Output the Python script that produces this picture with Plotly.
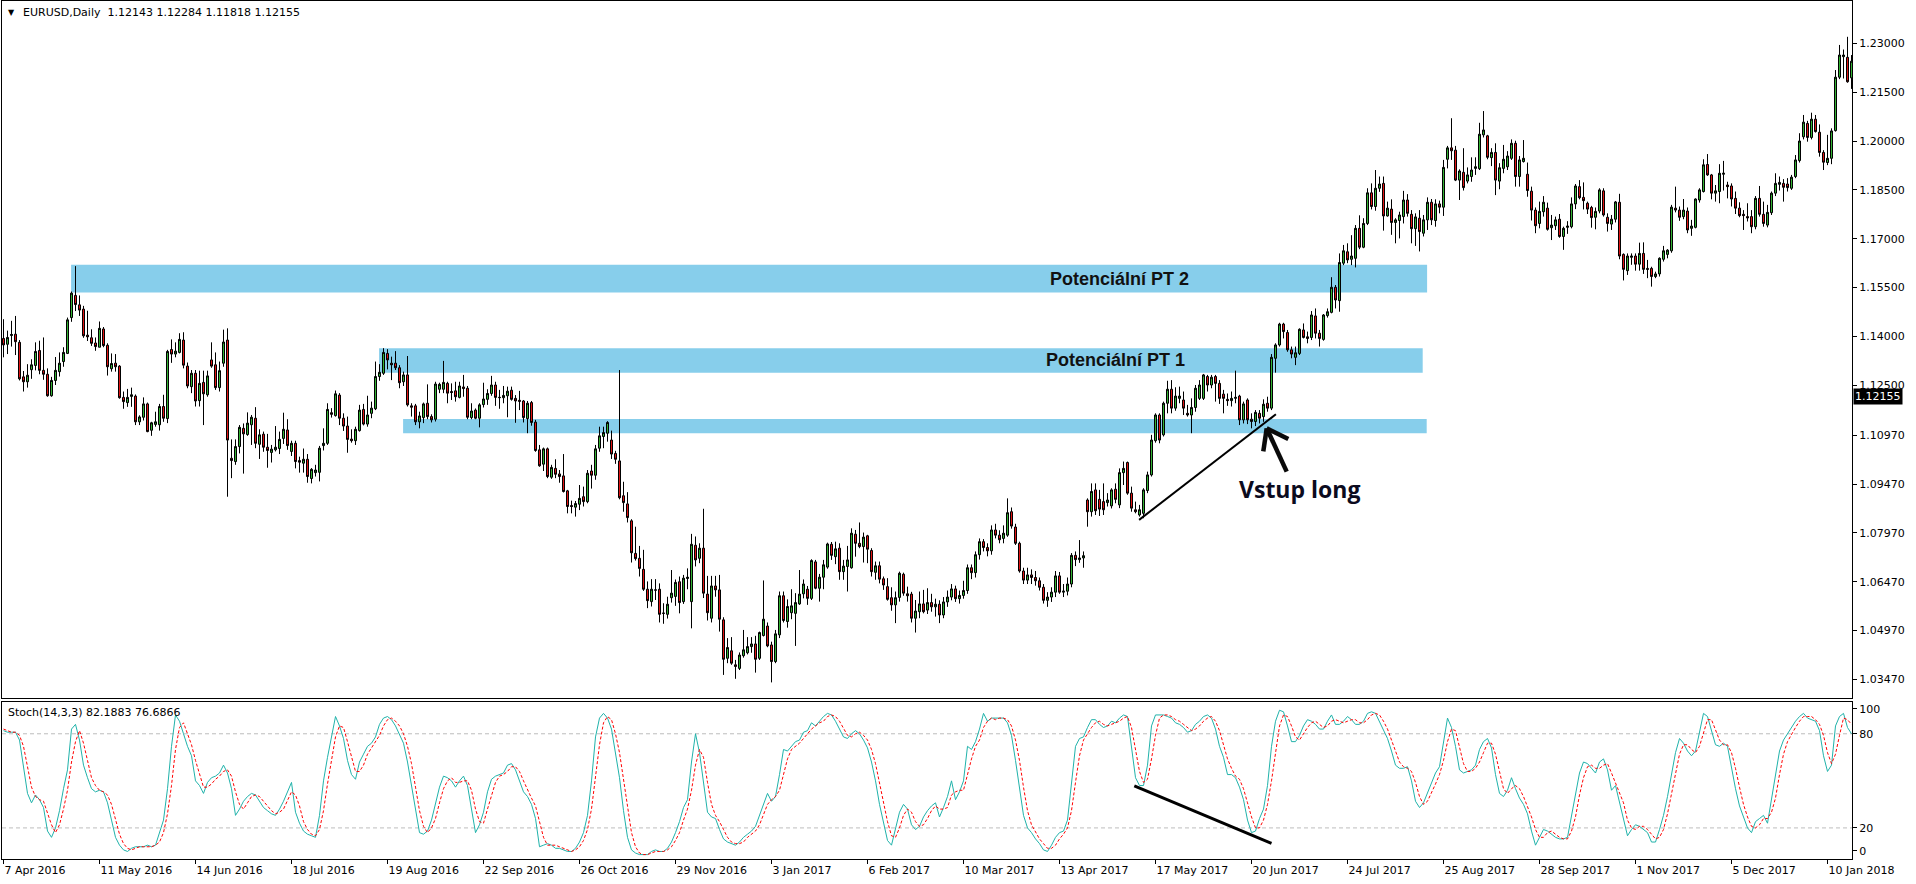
import plotly.graph_objects as go

# ---------------- data ----------------
date_labels = ["7 Apr 2016", "11 May 2016", "14 Jun 2016", "18 Jul 2016", "19 Aug 2016",
               "22 Sep 2016", "26 Oct 2016", "29 Nov 2016", "3 Jan 2017", "6 Feb 2017",
               "10 Mar 2017", "13 Apr 2017", "17 May 2017", "20 Jun 2017", "24 Jul 2017",
               "25 Aug 2017", "28 Sep 2017", "1 Nov 2017", "5 Dec 2017", "10 Jan 2018"]
date_label_bars = [0, 24, 48, 72, 96, 120, 144, 168, 192, 216, 240, 264, 288, 312, 336,
                   360, 384, 408, 432, 456]

price_ticks = [1.0347, 1.0497, 1.0647, 1.0797, 1.0947, 1.1097, 1.125, 1.14, 1.155,
               1.17, 1.185, 1.20, 1.215, 1.23]
stoch_ticks = [96, 80, 20, 5.5]
stoch_tick_text = ["100", "80", "20", "0"]

open_ = [
1.1394,1.1376,1.1403,1.1407,1.1382,1.1276,1.1261,1.1298,1.1311,1.1357,
1.1296,1.1284,1.1218,1.1265,1.1292,1.1323,1.1348,1.1458,1.1526,1.1497,
1.1484,1.1404,1.1396,1.1380,1.1367,1.1423,1.1373,1.1301,1.1318,1.1309,
1.1213,1.1197,1.1216,1.1217,1.1138,1.1152,1.1193,1.1112,1.1130,1.1129,
1.1185,1.1148,1.1360,1.1346,1.1351,1.1389,1.1309,1.1246,1.1287,1.1203,
1.1259,1.1221,1.1328,1.1313,1.1243,1.1318,1.1389,1.1026,1.1016,1.1062,
1.1118,1.1099,1.1129,1.1149,1.1069,1.1100,1.1060,1.1044,1.1052,1.1056,
1.1087,1.1113,1.1047,1.1072,1.1019,1.1011,1.1023,1.0964,1.0982,1.0983,
1.1065,1.1072,1.1166,1.1157,1.1220,1.1149,1.1125,1.1085,1.1080,1.1111,
1.1176,1.1131,1.1164,1.1178,1.1277,1.1287,1.1348,1.1318,1.1318,1.1304,
1.1261,1.1282,1.1187,1.1187,1.1138,1.1151,1.1195,1.1154,1.1146,1.1238,
1.1238,1.1256,1.1231,1.1233,1.1213,1.1245,1.1241,1.1151,1.1174,1.1149,
1.1191,1.1207,1.1225,1.1251,1.1212,1.1212,1.1218,1.1235,1.1210,1.1204,
1.1202,1.1148,1.1197,1.1137,1.1052,1.1008,1.1055,1.0968,1.0995,1.0978,
1.0972,1.0926,1.0881,1.0876,1.0885,1.0908,1.0893,1.0987,1.0974,1.1057,
1.1093,1.1103,1.1082,1.1041,1.1018,1.0911,1.0886,1.0834,1.0734,1.0719,
1.0685,1.0624,1.0586,1.0621,1.0624,1.0551,1.0547,1.0598,1.0602,1.0647,
1.0586,1.0657,1.0586,1.0759,1.0719,1.0750,1.0609,1.0535,1.0634,1.0622,
1.0530,1.0412,1.0435,1.0392,1.0381,1.0420,1.0429,1.0448,1.0456,1.0412,
1.0482,1.0511,1.0453,1.0402,1.0484,1.0604,1.0525,1.0552,1.0550,1.0579,
1.0610,1.0624,1.0596,1.0708,1.0627,1.0661,1.0692,1.0762,1.0724,1.0750,
1.0678,1.0694,1.0690,1.0793,1.0765,1.0755,1.0788,1.0743,1.0676,1.0696,
1.0656,1.0632,1.0598,1.0576,1.0599,1.0670,1.0610,1.0609,1.0535,1.0555,
1.0579,1.0560,1.0583,1.0570,1.0578,1.0545,1.0585,1.0600,1.0625,1.0595,
1.0605,1.0620,1.0690,1.0675,1.0730,1.0770,1.0752,1.0742,1.0806,1.0790,
1.0780,1.0790,1.0862,1.0815,1.0765,1.0680,1.0652,1.0668,1.0660,1.0650,
1.0630,1.0590,1.0600,1.0615,1.0665,1.0615,1.0618,1.0640,1.0728,1.0715,
1.0720,1.0898,1.0862,1.0929,1.0900,1.0893,1.0890,1.0880,1.0931,1.0883,
1.0982,1.1013,1.0919,1.0868,1.0852,1.0857,1.0927,1.0975,1.1080,1.1159,
1.1098,1.1195,1.1238,1.1180,1.1210,1.1205,1.1164,1.1159,1.1182,1.1210,
1.1210,1.1277,1.1251,1.1277,1.1256,1.1223,1.1207,1.1203,1.1210,1.1217,
1.1144,1.1205,1.1146,1.1139,1.1164,1.1154,1.1195,1.1180,1.1333,1.1374,
1.1438,1.1412,1.1359,1.1336,1.1348,1.1420,1.1399,1.1397,1.1463,1.1410,
1.1391,1.1464,1.1474,1.1551,1.1510,1.1625,1.1660,1.1637,1.1640,1.1732,
1.1674,1.1747,1.1841,1.1799,1.1855,1.1870,1.1770,1.1791,1.1750,1.1756,
1.1768,1.1819,1.1775,1.1731,1.1763,1.1717,1.1758,1.1812,1.1756,1.1807,
1.1797,1.1944,1.1979,1.1972,1.1880,1.1904,1.1877,1.1891,1.1916,1.1915,
1.2019,1.2016,1.1949,1.1965,1.1877,1.1916,1.1921,1.1947,1.1993,1.1891,
1.1937,1.1898,1.1846,1.1788,1.1747,1.1783,1.1794,1.1734,1.1740,1.1760,
1.1707,1.1735,1.1737,1.1807,1.1860,1.1827,1.1809,1.1796,1.1766,1.1785,
1.1847,1.1766,1.1745,1.1760,1.1812,1.1652,1.1602,1.1643,1.1647,1.1622,
1.1655,1.1609,1.1609,1.1584,1.1592,1.1637,1.1652,1.1663,1.1794,1.1788,
1.1768,1.1785,1.1732,1.1735,1.1819,1.1845,1.1928,1.1896,1.1840,1.1845,
1.1898,1.1865,1.1862,1.1824,1.1794,1.1775,1.1768,1.1768,1.1737,1.1824,
1.1775,1.1742,1.1780,1.1840,1.1867,1.1870,1.1868,1.1855,1.1891,1.1940,
1.2013,1.2054,1.2011,1.2067,1.2027,1.1965,1.1934,1.1947,1.2032,1.2196,
1.2259,1.2257,1.2194]

high_ = [
1.1453,1.1418,1.1448,1.1463,1.1389,1.1294,1.1315,1.1330,1.1382,1.1387,
1.1397,1.1302,1.1276,1.1337,1.1351,1.1367,1.1458,1.1538,1.1616,1.1526,
1.1494,1.1479,1.1422,1.1397,1.1446,1.1429,1.1379,1.1348,1.1346,1.1312,
1.1231,1.1239,1.1243,1.1222,1.1158,1.1213,1.1197,1.1138,1.1169,1.1193,
1.1221,1.1359,1.1391,1.1382,1.1410,1.1413,1.1320,1.1297,1.1297,1.1295,
1.1295,1.1295,1.1382,1.1351,1.1323,1.1421,1.1425,1.1084,1.1084,1.1128,
1.1133,1.1167,1.1159,1.1183,1.1115,1.1108,1.1101,1.1067,1.1125,1.1108,
1.1166,1.1146,1.1080,1.1080,1.1031,1.1056,1.1039,1.0996,1.1006,1.1064,
1.1118,1.1195,1.1180,1.1234,1.1226,1.1164,1.1154,1.1115,1.1123,1.1190,
1.1193,1.1218,1.1200,1.1323,1.1315,1.1364,1.1361,1.1338,1.1355,1.1312,
1.1292,1.1340,1.1195,1.1193,1.1169,1.1197,1.1253,1.1161,1.1261,1.1258,
1.1325,1.1261,1.1256,1.1261,1.1261,1.1282,1.1248,1.1195,1.1179,1.1195,
1.1258,1.1238,1.1279,1.1261,1.1236,1.1248,1.1246,1.1246,1.1220,1.1233,
1.1205,1.1202,1.1202,1.1144,1.1067,1.1059,1.1059,1.1006,1.1023,1.0990,
1.1039,1.0929,1.0896,1.0895,1.0944,1.0939,1.0990,1.1006,1.1067,1.1123,
1.1123,1.1140,1.1111,1.1049,1.1297,1.0954,1.0922,1.0839,1.0816,1.0757,
1.0745,1.0648,1.0655,1.0655,1.0642,1.0581,1.0601,1.0683,1.0654,1.0663,
1.0668,1.0688,1.0794,1.0786,1.0765,1.0871,1.0665,1.0665,1.0665,1.0668,
1.0538,1.0474,1.0477,1.0407,1.0430,1.0499,1.0477,1.0477,1.0481,1.0494,
1.0651,1.0522,1.0463,1.0499,1.0617,1.0617,1.0593,1.0624,1.0612,1.0683,
1.0654,1.0634,1.0716,1.0714,1.0671,1.0714,1.0767,1.0769,1.0770,1.0765,
1.0714,1.0757,1.0811,1.0806,1.0829,1.0798,1.0791,1.0750,1.0709,1.0709,
1.0663,1.0658,1.0630,1.0617,1.0678,1.0675,1.0632,1.0616,1.0591,1.0617,
1.0622,1.0627,1.0610,1.0595,1.0590,1.0600,1.0620,1.0640,1.0635,1.0620,
1.0650,1.0700,1.0700,1.0740,1.0780,1.0778,1.0765,1.0820,1.0825,1.0805,
1.0820,1.0903,1.0875,1.0825,1.0770,1.0690,1.0690,1.0685,1.0680,1.0660,
1.0640,1.0615,1.0630,1.0680,1.0677,1.0640,1.0660,1.0735,1.0740,1.0775,
1.0740,1.0903,1.0949,1.0949,1.0929,1.0949,1.0919,1.0934,1.0949,1.0995,
1.1016,1.1016,1.0939,1.0893,1.0883,1.0934,1.0985,1.1098,1.1164,1.1164,
1.1200,1.1264,1.1266,1.1244,1.1246,1.1231,1.1190,1.1210,1.1251,1.1266,
1.1285,1.1282,1.1282,1.1282,1.1266,1.1236,1.1225,1.1231,1.1295,1.1221,
1.1200,1.1210,1.1164,1.1174,1.1174,1.1207,1.1215,1.1346,1.1379,1.1442,
1.1442,1.1420,1.1369,1.1369,1.1425,1.1440,1.1415,1.1478,1.1486,1.1420,
1.1469,1.1486,1.1582,1.1558,1.1655,1.1681,1.1686,1.1711,1.1742,1.1772,
1.1763,1.1855,1.1870,1.1911,1.1891,1.1891,1.1814,1.1821,1.1763,1.1783,
1.1847,1.1837,1.1788,1.1778,1.1788,1.1773,1.1827,1.1822,1.1821,1.1817,
1.1942,1.1985,1.2070,1.1985,1.1913,1.1978,1.1919,1.1950,1.1950,1.2056,
1.2092,1.2019,1.1978,1.1993,1.1932,1.1988,1.1969,1.2005,1.2001,1.1954,
1.2003,1.1934,1.1860,1.1796,1.1814,1.1831,1.1811,1.1773,1.1768,1.1776,
1.1737,1.1754,1.1827,1.1868,1.1880,1.1873,1.1814,1.1801,1.1796,1.1855,
1.1855,1.1778,1.1773,1.1816,1.1838,1.1655,1.1655,1.1655,1.1655,1.1688,
1.1689,1.1635,1.1614,1.1599,1.1643,1.1678,1.1668,1.1804,1.1860,1.1799,
1.1822,1.1796,1.1758,1.1824,1.1855,1.1944,1.1960,1.1899,1.1865,1.1929,
1.1939,1.1875,1.1870,1.1845,1.1812,1.1788,1.1809,1.1788,1.1831,1.1862,
1.1814,1.1804,1.1845,1.1901,1.1891,1.1883,1.1886,1.1896,1.1957,1.2024,
1.2080,1.2062,1.2087,1.2080,1.2051,1.1972,1.2019,1.2039,1.2218,1.2295,
1.2281,1.2320,1.2264]

low_ = [
1.1336,1.1346,1.1369,1.1343,1.1265,1.1231,1.1243,1.1270,1.1296,1.1284,
1.1267,1.1215,1.1215,1.1251,1.1277,1.1307,1.1346,1.1445,1.1478,1.1463,
1.1396,1.1386,1.1371,1.1356,1.1367,1.1367,1.1280,1.1292,1.1292,1.1209,
1.1178,1.1184,1.1184,1.1128,1.1128,1.1142,1.1106,1.1095,1.1123,1.1111,
1.1138,1.1134,1.1319,1.1336,1.1348,1.1302,1.1241,1.1226,1.1185,1.1185,
1.1128,1.1215,1.1304,1.1236,1.1231,1.1307,1.0908,1.0965,1.1006,1.1041,
1.0979,1.1095,1.1067,1.1057,1.1024,1.1046,1.0997,1.1013,1.1047,1.1039,
1.1070,1.1052,1.1033,1.0995,1.0982,1.0982,1.0951,1.0949,1.0970,1.0955,
1.1050,1.1067,1.1151,1.1154,1.1128,1.1110,1.1043,1.1074,1.1067,1.1108,
1.1127,1.1123,1.1149,1.1174,1.1264,1.1282,1.1299,1.1266,1.1297,1.1241,
1.1248,1.1185,1.1154,1.1128,1.1118,1.1134,1.1146,1.1136,1.1139,1.1226,
1.1226,1.1195,1.1205,1.1200,1.1210,1.1215,1.1146,1.1146,1.1146,1.1121,
1.1182,1.1190,1.1218,1.1187,1.1178,1.1195,1.1152,1.1203,1.1135,1.1174,
1.1136,1.1103,1.1126,1.1046,1.1000,1.0987,1.0965,1.0963,1.0965,1.0951,
1.0921,1.0857,1.0857,1.0847,1.0867,1.0878,1.0888,1.0933,1.0960,1.1046,
1.1057,1.1077,1.1024,1.1009,1.0900,1.0862,1.0829,1.0706,1.0712,1.0663,
1.0619,1.0566,1.0571,1.0591,1.0522,1.0518,1.0534,1.0583,1.0573,1.0550,
1.0579,1.0624,1.0504,1.0694,1.0704,1.0597,1.0528,1.0522,1.0601,1.0494,
1.0361,1.0397,1.0392,1.0349,1.0376,1.0414,1.0424,1.0429,1.0368,1.0407,
1.0479,1.0446,1.0338,1.0397,1.0474,1.0522,1.0506,1.0532,1.0450,1.0576,
1.0596,1.0576,1.0591,1.0624,1.0586,1.0624,1.0687,1.0714,1.0701,1.0653,
1.0653,1.0617,1.0687,1.0724,1.0750,1.0706,1.0704,1.0663,1.0653,1.0642,
1.0622,1.0589,1.0558,1.0520,1.0586,1.0604,1.0586,1.0522,1.0491,1.0535,
1.0550,1.0548,1.0555,1.0540,1.0520,1.0535,1.0570,1.0590,1.0585,1.0580,
1.0595,1.0610,1.0655,1.0660,1.0715,1.0740,1.0725,1.0730,1.0780,1.0765,
1.0765,1.0785,1.0810,1.0760,1.0675,1.0640,1.0640,1.0640,1.0635,1.0620,
1.0580,1.0570,1.0585,1.0600,1.0610,1.0600,1.0605,1.0630,1.0695,1.0705,
1.0690,1.0816,1.0847,1.0852,1.0849,1.0852,1.0878,1.0872,1.0888,1.0873,
1.0944,1.0914,1.0862,1.0857,1.0847,1.0842,1.0919,1.0970,1.1074,1.1072,
1.1093,1.1164,1.1164,1.1172,1.1195,1.1159,1.1154,1.1103,1.1169,1.1205,
1.1205,1.1231,1.1241,1.1200,1.1193,1.1164,1.1187,1.1185,1.1195,1.1128,
1.1133,1.1131,1.1118,1.1125,1.1133,1.1138,1.1169,1.1174,1.1289,1.1369,
1.1394,1.1353,1.1333,1.1312,1.1343,1.1394,1.1379,1.1389,1.1394,1.1369,
1.1387,1.1458,1.1471,1.1486,1.1476,1.1619,1.1625,1.1619,1.1612,1.1668,
1.1671,1.1742,1.1790,1.1786,1.1844,1.1725,1.1768,1.1712,1.1686,1.1701,
1.1747,1.1768,1.1686,1.1678,1.1661,1.1707,1.1727,1.1742,1.1737,1.1778,
1.1770,1.1916,1.1942,1.1877,1.1819,1.1848,1.1870,1.1875,1.1896,1.1911,
1.2011,1.1944,1.1923,1.1834,1.1852,1.1901,1.1911,1.1942,1.1860,1.1860,
1.1934,1.1829,1.1756,1.1717,1.1732,1.1768,1.1725,1.1696,1.1727,1.1703,
1.1666,1.1715,1.1732,1.1791,1.1821,1.1790,1.1776,1.1734,1.1729,1.1778,
1.1768,1.1722,1.1727,1.1750,1.1637,1.1572,1.1589,1.1620,1.1602,1.1602,
1.1592,1.1579,1.1553,1.1579,1.1584,1.1630,1.1640,1.1657,1.1781,1.1755,
1.1760,1.1717,1.1709,1.1732,1.1811,1.1842,1.1893,1.1821,1.1814,1.1809,
1.1848,1.1824,1.1799,1.1776,1.1766,1.1727,1.1753,1.1717,1.1729,1.1768,
1.1737,1.1735,1.1773,1.1831,1.1848,1.1814,1.1845,1.1850,1.1886,1.1934,
1.2005,1.1998,1.2005,1.2026,1.1952,1.1911,1.1926,1.1929,1.2029,1.2190,
1.2192,1.2179,1.2160]

close_ = [
1.1374,1.1397,1.1406,1.1384,1.1270,1.1261,1.1281,1.1313,1.1354,1.1296,
1.1284,1.1218,1.1265,1.1296,1.1318,1.1351,1.1451,1.1533,1.1498,1.1481,
1.1402,1.1399,1.1379,1.1369,1.1425,1.1372,1.1307,1.1317,1.1307,1.1212,
1.1200,1.1213,1.1221,1.1138,1.1153,1.1193,1.1108,1.1135,1.1138,1.1185,
1.1149,1.1354,1.1346,1.1355,1.1391,1.1312,1.1248,1.1287,1.1202,1.1256,
1.1224,1.1279,1.1309,1.1243,1.1295,1.1383,1.1082,1.1019,1.1062,1.1121,
1.1101,1.1134,1.1152,1.1072,1.1098,1.1060,1.1050,1.1054,1.1060,1.1084,
1.1115,1.1065,1.1072,1.1016,1.1014,1.1023,1.0970,1.0992,1.0990,1.1057,
1.1072,1.1176,1.1161,1.1224,1.1149,1.1125,1.1084,1.1080,1.1115,1.1174,
1.1131,1.1159,1.1180,1.1277,1.1290,1.1351,1.1328,1.1313,1.1304,1.1258,
1.1282,1.1190,1.1183,1.1138,1.1156,1.1193,1.1154,1.1144,1.1254,1.1253,
1.1259,1.1226,1.1228,1.1215,1.1248,1.1240,1.1152,1.1171,1.1149,1.1190,
1.1208,1.1225,1.1251,1.1213,1.1213,1.1219,1.1232,1.1207,1.1202,1.1201,
1.1151,1.1195,1.1136,1.1050,1.1003,1.1055,1.0970,1.0998,1.0977,1.0970,
1.0924,1.0878,1.0878,1.0887,1.0903,1.0893,1.0980,1.0974,1.1055,1.1095,
1.1105,1.1136,1.1039,1.1023,1.0905,1.0890,1.0844,1.0736,1.0718,1.0688,
1.0624,1.0589,1.0624,1.0622,1.0547,1.0550,1.0578,1.0612,1.0645,1.0583,
1.0658,1.0661,1.0762,1.0714,1.0750,1.0612,1.0552,1.0634,1.0622,1.0532,
1.0409,1.0445,1.0397,1.0387,1.0422,1.0438,1.0448,1.0456,1.0409,1.0491,
1.0532,1.0450,1.0402,1.0487,1.0604,1.0528,1.0571,1.0573,1.0583,1.0609,
1.0640,1.0596,1.0712,1.0627,1.0661,1.0699,1.0763,1.0728,1.0748,1.0678,
1.0695,1.0714,1.0796,1.0765,1.0755,1.0784,1.0747,1.0678,1.0696,1.0655,
1.0637,1.0593,1.0576,1.0598,1.0673,1.0612,1.0604,1.0535,1.0557,1.0579,
1.0555,1.0583,1.0570,1.0578,1.0545,1.0585,1.0600,1.0625,1.0595,1.0605,
1.0620,1.0690,1.0675,1.0730,1.0770,1.0752,1.0742,1.0806,1.0790,1.0776,
1.0796,1.0859,1.0818,1.0765,1.0680,1.0652,1.0668,1.0660,1.0650,1.0630,
1.0590,1.0600,1.0615,1.0665,1.0615,1.0618,1.0640,1.0728,1.0715,1.0720,
1.0727,1.0862,1.0924,1.0865,1.0870,1.0868,1.0898,1.0929,1.0900,1.0982,
1.0995,1.0919,1.0873,1.0862,1.0868,1.0929,1.0975,1.1082,1.1159,1.1082,
1.1195,1.1238,1.1180,1.1217,1.1217,1.1180,1.1159,1.1182,1.1241,1.1251,
1.1282,1.1251,1.1275,1.1256,1.1210,1.1210,1.1203,1.1210,1.1213,1.1144,
1.1193,1.1144,1.1139,1.1167,1.1149,1.1192,1.1180,1.1336,1.1374,1.1438,
1.1415,1.1359,1.1346,1.1350,1.1422,1.1397,1.1394,1.1466,1.1410,1.1394,
1.1466,1.1476,1.1551,1.1512,1.1627,1.1663,1.1635,1.1647,1.1732,1.1674,
1.1747,1.1841,1.1799,1.1855,1.1868,1.1770,1.1794,1.1750,1.1758,1.1773,
1.1819,1.1778,1.1731,1.1767,1.1722,1.1758,1.1812,1.1758,1.1807,1.1797,
1.1919,1.1979,1.1970,1.1880,1.1908,1.1857,1.1896,1.1911,1.1921,1.2021,
1.2034,1.1950,1.1965,1.1880,1.1918,1.1944,1.1954,1.1993,1.1891,1.1942,
1.1947,1.1848,1.1788,1.1740,1.1784,1.1812,1.1729,1.1742,1.1758,1.1707,
1.1732,1.1739,1.1807,1.1862,1.1826,1.1817,1.1791,1.1765,1.1784,1.1850,
1.1773,1.1747,1.1760,1.1813,1.1647,1.1606,1.1647,1.1647,1.1622,1.1655,
1.1606,1.1606,1.1584,1.1592,1.1640,1.1663,1.1665,1.1797,1.1788,1.1766,
1.1788,1.1727,1.1739,1.1822,1.1850,1.1927,1.1896,1.1840,1.1847,1.1901,
1.1901,1.1860,1.1822,1.1794,1.1771,1.1771,1.1764,1.1737,1.1824,1.1775,
1.1747,1.1781,1.1840,1.1870,1.1873,1.1858,1.1857,1.1889,1.1942,1.2000,
1.2058,1.2011,1.2067,1.2029,1.1965,1.1935,1.1947,1.2031,1.2196,1.2264,
1.2264,1.2182,1.2245]

stoch_k = [
82,81,81,81,76,60,42,36,41,38, 33,18,14,20,31,45,57,83,86,76,
60,52,45,43,44,43,36,25,14,9, 6,5,7,8,8,8,9,8,9,17,
25,45,72,92,88,80,72,66,50,47, 42,49,52,53,55,60,55,45,28,32,
37,40,42,41,37,33,31,29,28,32, 37,43,49,30,23,18,16,15,14,28,
50,65,78,91,85,77,63,54,51,62, 67,72,74,78,86,90,91,89,85,80,
74,62,47,30,17,16,18,25,36,46, 53,52,50,46,50,53,47,33,17,22,
30,43,51,53,54,55,60,61,57,50, 43,40,35,26,8,9,10,9,7,7,
6,5,5,7,11,17,28,50,78,90, 93,90,83,68,52,31,14,6,4,3,
3,3,5,6,5,5,7,11,17,24, 33,38,62,80,68,48,30,27,26,19,
13,11,10,9,11,14,16,18,21,28, 34,42,37,40,54,70,69,72,75,76,
81,82,87,85,88,91,93,92,88,83, 78,77,80,82,80,76,71,62,50,35,
24,12,9,20,30,35,32,22,19,21, 27,31,34,36,27,33,40,50,38,43,
50,72,70,75,83,93,88,90,90,90, 90,87,79,63,46,28,20,17,13,10,
6,5,9,14,17,18,25,50,72,77, 78,84,89,89,86,84,85,88,87,90,
92,91,70,52,47,47,60,85,92,92, 92,91,90,87,86,84,81,82,86,88,
91,92,90,83,72,65,54,54,52,46, 38,25,17,18,26,32,47,72,88,95,
94,85,75,75,79,85,89,88,86,83, 83,88,92,86,86,88,91,89,86,86,
88,93,94,93,88,83,77,69,60,58, 58,59,50,37,33,36,42,48,55,59,
75,90,84,72,57,55,56,57,60,70, 75,77,71,54,42,40,44,52,45,39,
35,29,18,9,14,19,18,16,14,13, 13,14,28,40,55,62,61,58,55,62,
64,57,44,47,36,25,15,19,22,21, 19,17,11,11,19,28,40,55,68,77,
74,69,66,69,82,93,91,82,73,72, 74,72,58,45,34,27,20,17,24,26,
28,23,38,55,69,76,80,84,88,91, 93,90,89,88,82,66,56,60,85,91,
93,84,80]

stoch_d = [
83,82,81,81,79,72,59,46,40,38, 37,30,22,17,22,32,44,62,75,82,
74,63,52,47,44,43,41,35,25,16, 10,7,6,7,8,8,8,8,9,11,
17,29,47,70,84,87,80,73,63,54, 46,46,48,51,53,56,57,53,43,35,
32,36,40,41,40,37,34,31,29,30, 32,37,43,41,34,24,19,16,15,19,
31,48,64,78,85,84,75,65,56,56, 60,67,71,75,79,85,89,90,88,85,
80,72,61,46,31,21,17,20,26,36, 45,50,52,49,49,50,50,44,32,24,
23,32,41,49,53,54,56,59,59,56, 50,44,39,34,23,14,9,9,9,8,
7,6,5,6,8,12,19,32,52,73, 87,91,89,80,68,50,32,17,8,4,
3,3,4,5,5,5,6,8,12,17, 25,32,44,60,70,65,49,35,28,24,
19,14,11,10,10,11,14,16,18,22, 28,35,38,40,44,55,64,70,72,74,
77,80,83,85,87,88,91,92,91,88, 83,79,78,80,81,79,76,70,61,49,
36,24,15,14,20,28,32,30,24,21, 22,26,31,34,32,32,33,41,43,44,
44,55,64,72,76,84,88,90,89,90, 90,89,85,76,63,46,31,22,17,13,
10,7,7,9,13,16,20,31,49,66, 76,80,84,87,88,86,85,86,87,88,
90,91,84,71,56,49,51,64,79,90, 92,92,91,89,88,86,84,82,83,85,
88,90,91,88,82,73,64,58,53,51, 45,36,27,20,20,25,35,50,69,85,
92,91,85,78,76,80,84,87,88,86, 84,85,88,89,88,87,88,89,89,87,
87,89,92,93,92,88,83,76,69,62, 59,58,56,49,40,35,37,42,48,54,
63,75,83,82,71,61,56,56,58,62, 68,74,74,67,56,45,42,45,47,45,
40,34,27,19,14,14,17,18,16,14, 13,13,18,27,41,52,59,60,58,58,
60,61,55,49,42,36,25,20,19,21, 21,19,16,13,14,19,29,41,54,67,
73,73,70,68,72,81,89,89,82,76, 73,73,68,58,46,35,27,21,20,22,
26,26,30,39,54,67,75,80,84,88, 91,91,91,89,86,79,68,61,67,79,
90,89,86]

header_text = "EURUSD,Daily\u00a0\u00a01.12143 1.12284 1.11818 1.12155"
stoch_header = "Stoch(14,3,3) 82.1883 76.6866"
last_price = 1.12155

# target zones (price bands) and their labels
zones = [
    dict(x0=16.9, x1=355.9, y0=1.1535, y1=1.1620, label="Potenciální PT 2", lx=279.1),
    dict(x0=93.9, x1=354.8, y0=1.1289, y1=1.1364, label="Potenciální PT 1", lx=277.9),
    dict(x0=99.9, x1=355.8, y0=1.1103, y1=1.1147, label=None, lx=None),
]

# ---------------- figure ----------------
n = min(len(open_), len(high_), len(low_), len(close_))
bars = list(range(n))
W, H = 1916, 884
FONT = "DejaVu Sans"

fig = go.Figure()
fig.add_trace(go.Candlestick(
    x=bars, open=open_[:n], high=high_[:n], low=low_[:n], close=close_[:n],
    increasing=dict(line=dict(color="#000000", width=1), fillcolor="#33b233"),
    decreasing=dict(line=dict(color="#000000", width=1), fillcolor="#e01414"),
    whiskerwidth=0, xaxis="x", yaxis="y", hoverinfo="skip", showlegend=False))

kb = list(range(len(stoch_k)))
db = list(range(len(stoch_d)))
fig.add_trace(go.Scatter(x=kb, y=stoch_k, mode="lines", xaxis="x2", yaxis="y2",
                         line=dict(color="#20b2aa", width=1), hoverinfo="skip", showlegend=False))
fig.add_trace(go.Scatter(x=db, y=stoch_d, mode="lines", xaxis="x2", yaxis="y2",
                         line=dict(color="#ff0000", width=1, dash="3px,2px"),
                         hoverinfo="skip", showlegend=False))

xdom = [2 / W, 1852 / W]
xr = [-0.375, 462.125]
axis_common = dict(showline=True, mirror=True, linecolor="#000000", linewidth=1,
                   showgrid=False, zeroline=False, automargin=False)

fig.update_layout(
    width=W, height=H, autosize=False, margin=dict(l=0, r=0, t=0, b=0, pad=0),
    paper_bgcolor="#ffffff", plot_bgcolor="#ffffff", showlegend=False,
    hovermode=False, boxgap=0.5, boxgroupgap=0,
    xaxis=dict(domain=xdom, range=xr, anchor="y", showticklabels=False, ticks="",
               rangeslider=dict(visible=False), **axis_common),
    yaxis=dict(domain=[1 - 698 / H, 1 - 1 / H], range=[1.02901, 1.24299], anchor="x",
               side="right", tickvals=price_ticks, ticktext=["%.5f" % v for v in price_ticks],
               ticks="outside", ticklen=4, tickcolor="#000000",
               tickfont=dict(family=FONT, size=11, color="#000000"), **axis_common),
    xaxis2=dict(domain=xdom, range=xr, anchor="y2", tickvals=date_label_bars,
                ticktext=date_labels, ticks="outside", ticklen=4, tickcolor="#000000",
                ticklabelposition="outside right",
                tickfont=dict(family=FONT, size=11, color="#000000"), **axis_common),
    yaxis2=dict(domain=[1 - 859.3 / H, 1 - 702.4 / H], range=[0, 100], anchor="x2",
                side="right", tickvals=stoch_ticks, ticktext=stoch_tick_text,
                ticks="outside", ticklen=4, tickcolor="#000000",
                tickfont=dict(family=FONT, size=11, color="#000000"), **axis_common),
)

shapes = []
for z in zones:
    shapes.append(dict(type="rect", xref="x", yref="y", x0=z["x0"], x1=z["x1"],
                       y0=z["y0"], y1=z["y1"], fillcolor="#87ceeb",
                       line=dict(width=0), layer="below"))
# stochastic levels
for lvl in (80, 20):
    shapes.append(dict(type="line", xref="x2 domain", yref="y2", x0=0, x1=1, y0=lvl, y1=lvl,
                       line=dict(color="#bdbdbd", width=1, dash="4px,3px"), layer="below"))
# drawn trend lines and arrow
shapes.append(dict(type="line", xref="x", yref="y", x0=283.9, y0=1.0837, x1=318.1, y1=1.1161,
                   line=dict(color="#000000", width=2)))
arrow_tip = (315.8, 1.1118)
for end in [(320.8, 1.0985), (314.95, 1.1047), (321.2, 1.1085)]:
    shapes.append(dict(type="line", xref="x", yref="y", x0=arrow_tip[0], y0=arrow_tip[1],
                       x1=end[0], y1=end[1], line=dict(color="#0a0a0a", width=4.5)))
shapes.append(dict(type="line", xref="x2", yref="y2", x0=282.7, y0=46.8, x1=317.0, y1=10.2,
                   line=dict(color="#000000", width=3)))
fig.update_layout(shapes=shapes)

ann = []
ann.append(dict(xref="paper", yref="paper", x=6 / W, y=1 - 12.5 / H, xanchor="left",
                yanchor="middle", text="\u25bc", showarrow=False,
                font=dict(family=FONT, size=8, color="#000000")))
ann.append(dict(xref="paper", yref="paper", x=21 / W, y=1 - 12.5 / H, xanchor="left",
                yanchor="middle", text=header_text, showarrow=False,
                font=dict(family=FONT, size=11, color="#000000")))
ann.append(dict(xref="paper", yref="paper", x=6 / W, y=1 - 712.5 / H, xanchor="left",
                yanchor="middle", text=stoch_header, showarrow=False,
                font=dict(family=FONT, size=11, color="#000000")))
for z in zones:
    if z["label"]:
        ann.append(dict(xref="x", yref="y", x=z["lx"], y=(z["y0"] + z["y1"]) / 2,
                        xanchor="center", yanchor="middle", text="<b>%s</b>" % z["label"],
                        showarrow=False,
                        font=dict(family="Liberation Sans", size=18, color="#111111")))
ann.append(dict(xref="x", yref="y", x=324.1, y=1.0932, xanchor="center", yanchor="middle",
                text="<b>Vstup long</b>", showarrow=False,
                font=dict(family="Open Sans", size=23, color="#0b0b1e")))
ann.append(dict(xref="paper", yref="y", x=1853 / W, y=last_price, xanchor="left",
                yanchor="middle", text="%.5f" % last_price, showarrow=False,
                bgcolor="#000000", borderpad=1,
                font=dict(family=FONT, size=11, color="#ffffff")))
fig.update_layout(annotations=ann)

fig.write_html("out.html", config={"displayModeBar": False, "responsive": False},
               default_width="1916px", default_height="884px",
               post_script="document.body.style.margin='0';document.body.style.overflow='hidden';")
